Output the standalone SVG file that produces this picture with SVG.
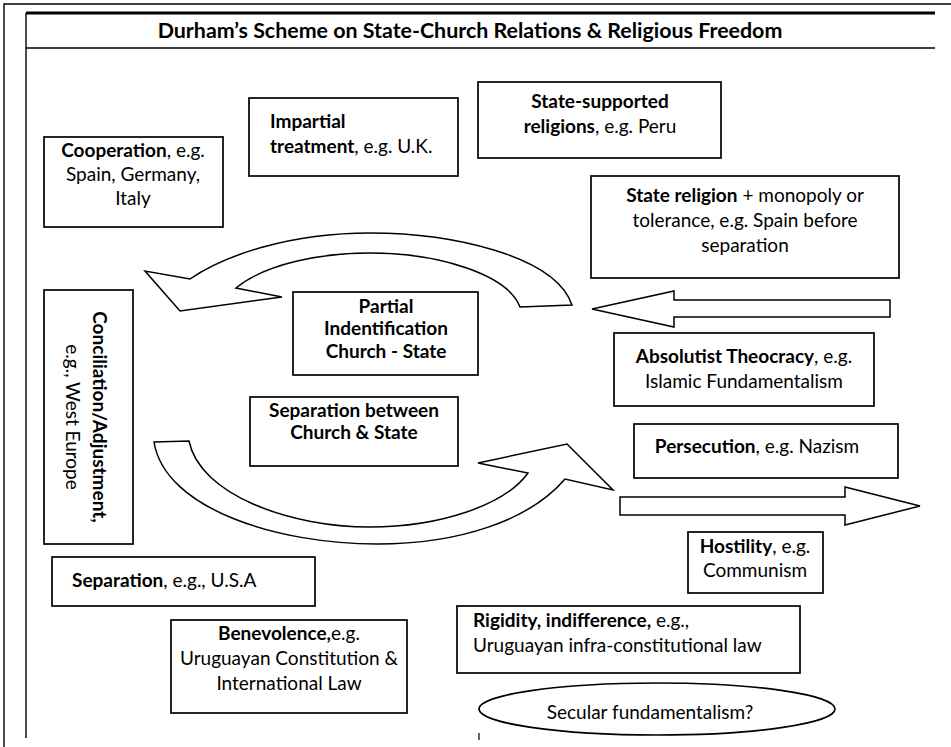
<svg xmlns="http://www.w3.org/2000/svg" width="951" height="747" viewBox="0 0 951 747">
<style>
text{font-family:Lato,"Open Sans","Liberation Sans",sans-serif;font-size:19px;fill:#000}
.b{font-weight:bold}
.c{text-anchor:middle}
.box{fill:#fff;stroke:#000;stroke-width:1.7}
.frame{fill:none;stroke:#000;stroke-width:1.4}
.arr{fill:#fff;stroke:#000;stroke-width:1.5;stroke-linejoin:miter}
</style>
<rect width="951" height="747" fill="#fff"/>
<g id="frame">
<path class="frame" d="M4,747 V4 H951"/>
<path d="M26,13 H935" stroke="#000" stroke-width="3" fill="none"/>
<path class="frame" d="M26,13 V738 M26,48 H935"/>
<line x1="479" y1="733" x2="479" y2="740" stroke="#000" stroke-width="1.2"/>
</g>
<g id="title">
<text class="b c" x="470" y="38" style="font-size:21.4px">Durham’s Scheme on State-Church Relations &amp; Religious Freedom</text>
</g>
<g id="connectors">
<path class="arr" d="M572,305 C555,255 450,233 370,233 C290,233 225,255 190,279 L145,271 L180,311 L282,297 L236,288 C265,264 320,253 370,253 C440,253 508,275 520,307 Z"/>
<path class="arr" d="M154,442 L189,441 C200,495 290,527 370,527 C440,527 505,505 528,473 L478,463 L567,444 L613,490 L565,479 C530,520 460,544 377,544 C280,544 165,510 154,442 Z"/>
<path class="arr" d="M890,300 H674 V291 L592,309 L674,327 V317 H890 Z"/>
<path class="arr" d="M620,497 H845 V487 L920,506 L845,525 V515 H620 Z"/>
</g>
<g id="cooperation">
<rect class="box" x="44" y="137" width="179" height="90"/>
<text class="c" x="133" y="157"><tspan class="b">Cooperation</tspan>, e.g.</text>
<text class="c" x="133" y="181">Spain, Germany,</text>
<text class="c" x="133" y="205">Italy</text>
</g>
<g id="impartial">
<rect class="box" x="249" y="98" width="209" height="78"/>
<text x="270" y="128" class="b">Impartial</text>
<text x="270" y="153"><tspan class="b">treatment</tspan>, e.g. U.K.</text>
</g>
<g id="state-supported">
<rect class="box" x="478" y="82" width="243" height="76"/>
<text class="c b" x="600" y="108">State-supported</text>
<text class="c" x="600" y="133"><tspan class="b">religions</tspan>, e.g. Peru</text>
</g>
<g id="state-religion">
<rect class="box" x="591" y="176" width="308" height="102"/>
<text class="c" x="745" y="202"><tspan class="b">State religion</tspan> + monopoly or</text>
<text class="c" x="745" y="227">tolerance, e.g. Spain before</text>
<text class="c" x="745" y="252">separation</text>
</g>
<g id="conciliation">
<rect class="box" x="44" y="290" width="89" height="254"/>
<text class="c b" x="93" y="417" transform="rotate(90 93 417)">Conciliation/Adjustment,</text>
<text class="c" x="66" y="417" transform="rotate(90 66 417)">e.g., West Europe</text>
</g>
<g id="partial">
<rect class="box" x="293" y="292" width="185" height="83"/>
<text class="c b" x="386" y="313">Partial</text>
<text class="c b" x="386" y="335">Indentification</text>
<text class="c b" x="386" y="358">Church - State</text>
</g>
<g id="absolutist">
<rect class="box" x="614" y="333" width="260" height="73"/>
<text class="c" x="744" y="363"><tspan class="b">Absolutist Theocracy</tspan>, e.g.</text>
<text class="c" x="744" y="388">Islamic Fundamentalism</text>
</g>
<g id="separation-cs">
<rect class="box" x="250" y="397" width="208" height="69"/>
<text class="c b" x="354" y="417">Separation between</text>
<text class="c b" x="354" y="439">Church &amp; State</text>
</g>
<g id="persecution">
<rect class="box" x="634" y="424" width="264" height="54"/>
<text class="c" x="757" y="453"><tspan class="b">Persecution</tspan>, e.g. Nazism</text>
</g>
<g id="hostility">
<rect class="box" x="688" y="532" width="135" height="61"/>
<text class="c" x="755" y="553"><tspan class="b">Hostility</tspan>, e.g.</text>
<text class="c" x="755" y="577">Communism</text>
</g>
<g id="separation-usa">
<rect class="box" x="52" y="557" width="263" height="49"/>
<text x="72" y="587"><tspan class="b">Separation</tspan>, e.g., U.S.A</text>
</g>
<g id="rigidity">
<rect class="box" x="457" y="606" width="343" height="67"/>
<text x="473" y="627"><tspan class="b">Rigidity, indifference,</tspan> e.g.,</text>
<text x="473" y="652">Uruguayan infra-constitutional law</text>
</g>
<g id="benevolence">
<rect class="box" x="171" y="620" width="236" height="93"/>
<text class="c" x="289" y="640"><tspan class="b">Benevolence,</tspan>e.g.</text>
<text class="c" x="289" y="665">Uruguayan Constitution &amp;</text>
<text class="c" x="289" y="690">International Law</text>
</g>
<g id="secular">
<ellipse class="box" cx="657" cy="709" rx="178" ry="26"/>
<text class="c" x="650" y="719">Secular fundamentalism?</text>
</g>
</svg>
